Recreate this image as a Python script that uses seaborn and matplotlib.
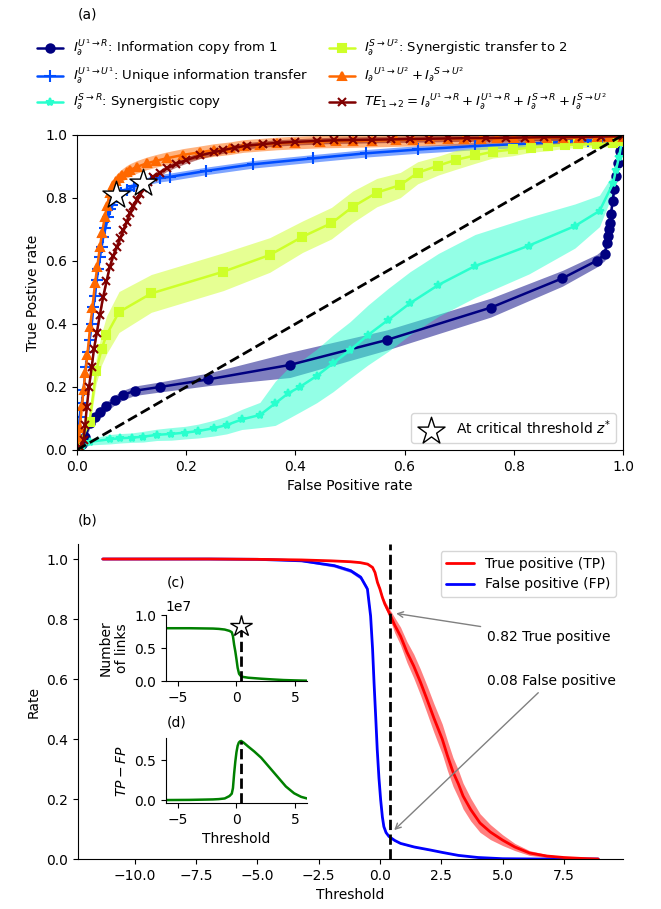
import matplotlib
matplotlib.use("Agg")
import matplotlib.pyplot as plt
import seaborn as sns

# ---------------- panel (a): ROC curves ----------------
copy_fpr = [0.01, 0.015, 0.024, 0.033, 0.042, 0.054, 0.07, 0.085, 0.106, 0.152, 0.24, 0.39,
            0.567, 0.758, 0.889, 0.952, 0.967, 0.970, 0.972, 0.974, 0.976, 0.978, 0.981,
            0.984, 0.987, 0.990, 0.994, 1.0]
copy_tpr = [0.02, 0.042, 0.085, 0.106, 0.122, 0.138, 0.159, 0.175, 0.188, 0.2, 0.224, 0.27,
            0.349, 0.452, 0.545, 0.601, 0.622, 0.656, 0.68, 0.70, 0.72, 0.75, 0.79,
            0.83, 0.87, 0.91, 0.95, 1.0]
copy_err = [0.005, 0.01, 0.012, 0.014, 0.015, 0.015, 0.015, 0.015, 0.015, 0.016, 0.02, 0.04,
            0.032, 0.03, 0.025, 0.02, 0.02, 0.02, 0.02, 0.02, 0.02, 0.02, 0.02,
            0.02, 0.015, 0.012, 0.01, 0.0]

uniq_fpr = [0.0, 0.002, 0.005, 0.009, 0.012, 0.016, 0.02, 0.023, 0.027, 0.03, 0.033, 0.036,
            0.039, 0.042, 0.045, 0.048, 0.052, 0.057, 0.061, 0.064, 0.068, 0.073, 0.08,
            0.091, 0.104, 0.121, 0.136, 0.152, 0.17, 0.237, 0.323, 0.433, 0.53, 0.625,
            0.729, 0.805, 0.86, 0.894, 0.912, 0.925, 0.935, 0.945, 0.955, 0.962, 0.97,
            0.978, 0.985, 0.992, 1.0]
uniq_tpr = [0.0, 0.032, 0.106, 0.15, 0.19, 0.264, 0.31, 0.349, 0.40, 0.455, 0.49, 0.54,
            0.575, 0.614, 0.645, 0.677, 0.705, 0.741, 0.765, 0.778, 0.792, 0.804, 0.815,
            0.825, 0.838, 0.850, 0.857, 0.863, 0.867, 0.886, 0.907, 0.926, 0.942, 0.954,
            0.965, 0.971, 0.975, 0.979, 0.98, 0.981, 0.982, 0.984, 0.985, 0.986, 0.988,
            0.989, 0.99, 0.992, 0.995]

syn_fpr = [0.01, 0.024, 0.06, 0.079, 0.1, 0.121, 0.146, 0.173, 0.198, 0.222, 0.25, 0.274,
           0.302, 0.335, 0.363, 0.387, 0.408, 0.439, 0.469, 0.5, 0.533, 0.57, 0.61, 0.662,
           0.729, 0.828, 0.912, 0.957, 0.982, 0.987, 0.993, 1.0]
syn_tpr = [0.01, 0.026, 0.034, 0.037, 0.039, 0.042, 0.048, 0.051, 0.055, 0.06, 0.069, 0.079,
           0.097, 0.111, 0.148, 0.18, 0.2, 0.235, 0.275, 0.317, 0.365, 0.413, 0.466, 0.524,
           0.584, 0.649, 0.711, 0.759, 0.847, 0.889, 0.931, 1.0]
syn_err = [0.005, 0.01, 0.015, 0.015, 0.015, 0.017, 0.018, 0.02, 0.02, 0.022, 0.025, 0.028,
           0.032, 0.04, 0.07, 0.08, 0.08, 0.085, 0.09, 0.09, 0.095, 0.1, 0.1, 0.1,
           0.1, 0.09, 0.07, 0.05, 0.03, 0.02, 0.01, 0.0]

trans_fpr = [0.0, 0.023, 0.035, 0.045, 0.054, 0.077, 0.136, 0.268, 0.353, 0.413, 0.466, 0.505,
             0.549, 0.592, 0.624, 0.662, 0.694, 0.729, 0.762, 0.798, 0.831, 0.863, 0.894,
             0.918, 0.952, 0.982, 1.0]
trans_tpr = [0.0, 0.09, 0.25, 0.32, 0.365, 0.438, 0.497, 0.566, 0.619, 0.677, 0.72, 0.772,
             0.817, 0.841, 0.88, 0.903, 0.921, 0.935, 0.947, 0.954, 0.96, 0.965, 0.968,
             0.97, 0.971, 0.973, 0.98]
trans_err = [0.0, 0.02, 0.04, 0.05, 0.06, 0.065, 0.06, 0.06, 0.055, 0.05, 0.05, 0.05,
             0.045, 0.04, 0.035, 0.03, 0.03, 0.025, 0.02, 0.02, 0.015, 0.015, 0.01,
             0.01, 0.01, 0.01, 0.01]

sum_fpr = [0.0, 0.003, 0.005, 0.009, 0.012, 0.015, 0.019, 0.024, 0.028, 0.033, 0.037, 0.042,
           0.046, 0.051, 0.055, 0.06, 0.066, 0.071, 0.076, 0.083, 0.091, 0.097, 0.11, 0.128,
           0.145, 0.164, 0.195, 0.225, 0.25, 0.28, 0.305, 0.335, 0.366, 0.4, 0.445, 0.475,
           0.506, 0.54, 0.585, 0.615, 0.647, 0.68, 0.708, 0.74, 0.769, 0.8, 0.83, 0.86,
           0.891, 0.92, 0.952, 0.975, 1.0]
sum_tpr = [0.0, 0.04, 0.07, 0.14, 0.19, 0.243, 0.30, 0.391, 0.45, 0.529, 0.58, 0.645,
           0.69, 0.741, 0.775, 0.815, 0.84, 0.853, 0.862, 0.873, 0.883, 0.889, 0.899, 0.91,
           0.918, 0.926, 0.937, 0.945, 0.952, 0.958, 0.965, 0.969, 0.973, 0.976, 0.979, 0.98,
           0.981, 0.982, 0.984, 0.985, 0.986, 0.987, 0.987, 0.988, 0.989, 0.99, 0.99, 0.991,
           0.991, 0.992, 0.993, 0.994, 0.995]

te_fpr = [0.0, 0.006, 0.012, 0.015, 0.018, 0.022, 0.027, 0.031, 0.036, 0.042, 0.048, 0.054,
          0.06, 0.066, 0.073, 0.079, 0.085, 0.091, 0.097, 0.103, 0.109, 0.115, 0.121, 0.13,
          0.14, 0.152, 0.164, 0.182, 0.2, 0.225, 0.25, 0.268, 0.29, 0.311, 0.34, 0.366,
          0.4, 0.439, 0.47, 0.506, 0.54, 0.575, 0.61, 0.645, 0.68, 0.715, 0.75, 0.785,
          0.82, 0.855, 0.89, 0.925, 0.96, 1.0]
te_tpr = [0.0, 0.01, 0.032, 0.08, 0.137, 0.2, 0.264, 0.32, 0.37, 0.43, 0.487, 0.535,
          0.582, 0.615, 0.645, 0.672, 0.698, 0.725, 0.751, 0.773, 0.794, 0.813, 0.831, 0.85,
          0.868, 0.88, 0.894, 0.908, 0.92, 0.935, 0.945, 0.952, 0.96, 0.966, 0.971, 0.975,
          0.978, 0.981, 0.983, 0.984, 0.985, 0.986, 0.987, 0.988, 0.989, 0.99, 0.99, 0.991,
          0.992, 0.993, 0.993, 0.994, 0.995, 0.996]

star_fpr = [0.071, 0.121]
star_tpr = [0.81, 0.847]

# ---------------- panel (b): rates vs threshold ----------------
thr_tp = [-11.3, -9, -7, -5, -3.2, -2, -1.2, -0.8, -0.5, -0.3, -0.2, -0.1, 0.0, 0.1, 0.2,
          0.37, 0.6, 0.84, 1.1, 1.38, 1.65, 1.92, 2.2, 2.54, 2.75, 2.98, 3.2, 3.39, 3.7,
          4.08, 4.5, 5.0, 5.5, 6.1, 6.8, 7.5, 8.2, 8.9]
tp_rate = [1.0, 1.0, 1.0, 0.999, 0.997, 0.994, 0.991, 0.988, 0.983, 0.972, 0.955, 0.922,
           0.9, 0.872, 0.85, 0.822, 0.78, 0.743, 0.69, 0.643, 0.59, 0.532, 0.47, 0.40,
           0.345, 0.29, 0.25, 0.21, 0.165, 0.12, 0.09, 0.063, 0.04, 0.02, 0.01, 0.005,
           0.002, 0.0]
tp_err = [0, 0, 0, 0, 0, 0, 0, 0, 0.002, 0.003, 0.004, 0.005, 0.006, 0.008, 0.01, 0.014,
          0.025, 0.03, 0.035, 0.04, 0.043, 0.046, 0.048, 0.05, 0.05, 0.048, 0.046, 0.043,
          0.038, 0.031, 0.025, 0.018, 0.012, 0.008, 0.005, 0.003, 0.001, 0]

thr_fp = [-11.3, -9, -7, -5, -3.2, -1.86, -1.19, -0.78, -0.51, -0.38, -0.3, -0.24, -0.17,
          -0.11, -0.04, 0.03, 0.1, 0.16, 0.25, 0.37, 0.6, 0.84, 1.4, 2.05, 2.54, 3.2, 4.0,
          5.0, 6.5, 8.9]
fp_rate = [1.0, 1.0, 1.0, 0.999, 0.994, 0.978, 0.961, 0.939, 0.9, 0.81, 0.70, 0.588, 0.47,
           0.365, 0.27, 0.197, 0.14, 0.108, 0.088, 0.075, 0.062, 0.052, 0.04, 0.03, 0.022,
           0.012, 0.005, 0.001, 0.0, 0.0]
fp_err = [0, 0, 0, 0, 0.002, 0.005, 0.006, 0.007, 0.008, 0.008, 0.008, 0.008, 0.008,
          0.007, 0.006, 0.005, 0.004, 0.003, 0.003, 0.002, 0.002, 0.002, 0.002, 0.001,
          0.001, 0.001, 0, 0, 0, 0]

z_star = 0.4

# insets (c) and (d)
thr_links = [-6, -4, -2, -1.5, -1, -0.6, -0.4, -0.3, -0.2, -0.1, 0.0, 0.1, 0.22, 0.35,
             0.5, 0.63, 1.0, 2.1, 3.0, 4.0, 4.9, 6.0]
n_links = [8.0e6, 8.0e6, 7.95e6, 7.9e6, 7.8e6, 7.6e6, 7.4e6, 6.8e6, 5.5e6, 4.5e6, 3.3e6,
           2.0e6, 1.1e6, 0.8e6, 0.65e6, 0.6e6, 0.5e6, 0.35e6, 0.25e6, 0.15e6, 0.1e6, 0.05e6]

thr_diff = [-6, -4, -2, -1.5, -1, -0.6, -0.4, -0.3, -0.2, -0.1, 0.0, 0.1, 0.2, 0.3, 0.4,
            0.6, 1.0, 1.5, 2.1, 2.8, 3.5, 4.2, 4.9, 5.5, 6.0]
tp_minus_fp = [0.0, 0.002, 0.008, 0.012, 0.02, 0.05, 0.08, 0.15, 0.33, 0.48, 0.6, 0.68,
               0.72, 0.735, 0.74, 0.72, 0.67, 0.61, 0.53, 0.41, 0.29, 0.17, 0.085, 0.04,
               0.02]

sns.set_style("ticks", {"axes.edgecolor": "black", "text.color": "black",
                        "axes.labelcolor": "black", "xtick.color": "black",
                        "ytick.color": "black"})
plt.rcParams["font.family"] = ["DejaVu Sans"]
plt.rcParams["font.size"] = 10

cmap = plt.get_cmap("jet")
curve_colors = [cmap(i / 5) for i in range(6)]

fig = plt.figure(figsize=(6.61, 9.09), dpi=100)

# ---------------- (a) ----------------
ax_a = fig.add_axes([0.1165, 0.505, 0.826, 0.3465])

curves = [
    (copy_fpr, copy_tpr, copy_err, "o", 6,
     r"$I_\partial^{U^1\to R}$: Information copy from 1"),
    (uniq_fpr, uniq_tpr, [0.012] * len(uniq_fpr), "+", 8,
     r"$I_\partial^{U^1\to U^1}$: Unique information transfer"),
    (syn_fpr, syn_tpr, syn_err, "*", 6,
     r"$I_\partial^{S\to R}$: Synergistic copy"),
    (trans_fpr, trans_tpr, trans_err, "s", 6,
     r"$I_\partial^{S\to U^2}$: Synergistic transfer to 2"),
    (sum_fpr, sum_tpr, [0.02] * len(sum_fpr), "^", 6,
     r"${I_\partial}^{U^1\to U^2}+{I_\partial}^{S\to U^2}$"),
    (te_fpr, te_tpr, [0.01] * len(te_fpr), "x", 6,
     r"$TE_{1\to 2}={I_\partial}^{U^1\to R}+I_\partial^{U^1\to R}+I_\partial^{S\to R}+I_\partial^{S\to U^2}$"),
]

for (fpr, tpr, err, mk, ms, lab), col in zip(curves, curve_colors):
    lo = [t - e for t, e in zip(tpr, err)]
    hi = [t + e for t, e in zip(tpr, err)]
    ax_a.fill_between(fpr, lo, hi, color=col, alpha=0.5, lw=0)
    sns.lineplot(x=fpr, y=tpr, ax=ax_a, color=col, marker=mk, markersize=ms,
                 markeredgecolor=col, markeredgewidth=1.5, lw=1.8, sort=False,
                 estimator=None, label=lab, legend=False)

ax_a.plot([0, 1], [0, 1], "k--", lw=2)
star = ax_a.scatter(star_fpr, star_tpr, marker="*", s=420, facecolor="white",
                    edgecolor="black", linewidth=1, zorder=10,
                    label=r"At critical threshold $z^{*}$")

ax_a.set_xlim(0, 1)
ax_a.set_ylim(0, 1)
ax_a.set_xlabel("False Positive rate")
ax_a.set_ylabel("True Postive rate")
ax_a.legend(handles=[star], loc="lower right", fontsize=10)

handles = ax_a.get_lines()[:6]
fig.legend(handles, [c[5] for c in curves], ncol=2, loc="center",
           bbox_to_anchor=(0.487, 0.917), frameon=False, fontsize=9.5,
           columnspacing=1.6, labelspacing=0.55, handletextpad=0.7)
fig.text(78 / 661, 1 - 14 / 909, "(a)", va="center", ha="left", fontsize=10)

# ---------------- (b) ----------------
ax_b = fig.add_axes([0.118, 0.055, 0.8245, 0.3465])
ax_b.fill_between(thr_tp, [r - e for r, e in zip(tp_rate, tp_err)],
                  [r + e for r, e in zip(tp_rate, tp_err)], color="red", alpha=0.5, lw=0)
ax_b.fill_between(thr_fp, [r - e for r, e in zip(fp_rate, fp_err)],
                  [r + e for r, e in zip(fp_rate, fp_err)], color="blue", alpha=0.5, lw=0)
sns.lineplot(x=thr_fp, y=fp_rate, ax=ax_b, color="blue", lw=2, sort=False,
             estimator=None, label="False positive (FP)")
sns.lineplot(x=thr_tp, y=tp_rate, ax=ax_b, color="red", lw=2, sort=False,
             estimator=None, label="True positive (TP)")
ax_b.axvline(z_star, color="black", ls="--", lw=2)
ax_b.set_ylim(0, 1.05)
ax_b.set_xlabel("Threshold")
ax_b.set_ylabel("Rate")
h, l = ax_b.get_legend_handles_labels()
ax_b.legend(h[::-1], l[::-1], loc="upper right", fontsize=10)
sns.despine(ax=ax_b)

arrow = dict(arrowstyle="->", color="gray", lw=1)
ax_b.annotate("0.82 True positive", xy=(0.55, 0.82), xytext=(4.35, 0.74),
              ha="left", va="center", arrowprops=arrow)
ax_b.annotate("0.08 False positive", xy=(0.5, 0.09), xytext=(4.35, 0.595),
              ha="left", va="center", arrowprops=arrow)
fig.text(78 / 661, 1 - 520 / 909, "(b)", va="center", ha="left", fontsize=10)

# ---------------- (c) inset ----------------
ax_c = fig.add_axes([0.251, 0.2508, 0.2135, 0.0726])
sns.lineplot(x=thr_links, y=n_links, ax=ax_c, color="green", lw=1.8, sort=False,
             estimator=None)
ax_c.plot([z_star, z_star], [0, 8.3e6], "k--", lw=2)
ax_c.plot([z_star], [8.3e6], marker="*", ms=16, mfc="white", mec="black", mew=1,
          clip_on=False, zorder=10)
ax_c.set_xlim(-6, 6)
ax_c.set_ylim(0, 1e7)
ax_c.set_ylabel("Number\nof links")
sns.despine(ax=ax_c)
fig.text(167 / 661, 1 - 583 / 909, "(c)", va="center", ha="left", fontsize=10)

# ---------------- (d) inset ----------------
ax_d = fig.add_axes([0.251, 0.1166, 0.2135, 0.0715])
sns.lineplot(x=thr_diff, y=tp_minus_fp, ax=ax_d, color="green", lw=1.8, sort=False,
             estimator=None)
ax_d.set_xlim(-6, 6)
ymin, ymax = ax_d.get_ylim()
ax_d.plot([z_star, z_star], [ymin, 0.74], "k--", lw=2)
ax_d.set_ylim(ymin, ymax)
ax_d.set_xlabel("Threshold")
ax_d.set_ylabel(r"$TP-FP$")
sns.despine(ax=ax_d)
fig.text(167 / 661, 1 - 723 / 909, "(d)", va="center", ha="left", fontsize=10)

fig.savefig("out.png", dpi=100)
